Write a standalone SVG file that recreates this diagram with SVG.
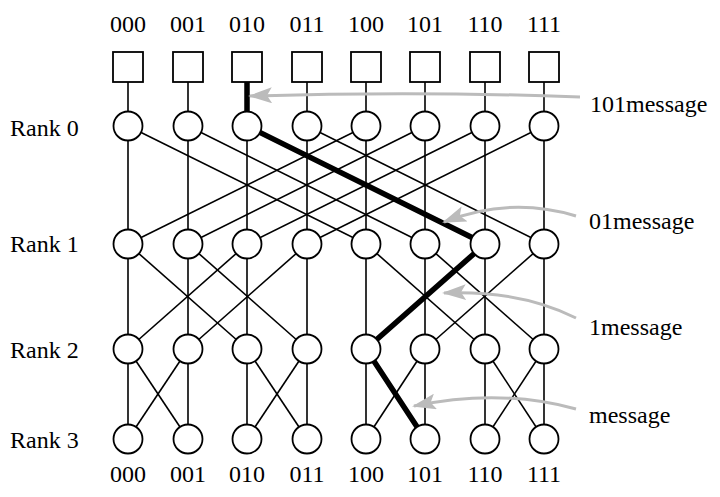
<svg xmlns="http://www.w3.org/2000/svg" width="720" height="497" viewBox="0 0 720 497">
<defs>
<style>
text{font-family:"Liberation Serif","Times New Roman",serif;font-size:24px;fill:#000}
.c text{text-anchor:middle}
.e line{stroke:#000;stroke-width:1.6}
.p{stroke:#000;stroke-width:5.5;fill:none}
.g path{stroke:#bbb;stroke-width:3;fill:none;marker-end:url(#ah)}
.n circle,.n rect{fill:#fff;stroke:#000;stroke-width:1.8}
</style>
<marker id="ah" viewBox="0 0 24 16" refX="22" refY="8" markerWidth="24" markerHeight="16" orient="auto" markerUnits="userSpaceOnUse"><path d="M24,8 L0,0 L5,8 L0,16 Z" fill="#bbb"/></marker>
</defs>
<rect width="720" height="497" fill="#fff"/>
<g id="connectors" class="e">
<line x1="128" y1="82" x2="128" y2="439"/><line x1="188" y1="82" x2="188" y2="439"/><line x1="247" y1="82" x2="247" y2="439"/><line x1="307" y1="82" x2="307" y2="439"/><line x1="366" y1="82" x2="366" y2="439"/><line x1="425" y1="82" x2="425" y2="439"/><line x1="485" y1="82" x2="485" y2="439"/><line x1="544" y1="82" x2="544" y2="439"/>
<line x1="128" y1="126" x2="366" y2="244"/><line x1="188" y1="126" x2="425" y2="244"/><line x1="247" y1="126" x2="485" y2="244"/><line x1="307" y1="126" x2="544" y2="244"/>
<line x1="366" y1="126" x2="128" y2="244"/><line x1="425" y1="126" x2="188" y2="244"/><line x1="485" y1="126" x2="247" y2="244"/><line x1="544" y1="126" x2="307" y2="244"/>
<line x1="128" y1="244" x2="247" y2="349"/><line x1="188" y1="244" x2="307" y2="349"/><line x1="247" y1="244" x2="128" y2="349"/><line x1="307" y1="244" x2="188" y2="349"/>
<line x1="366" y1="244" x2="485" y2="349"/><line x1="425" y1="244" x2="544" y2="349"/><line x1="485" y1="244" x2="366" y2="349"/><line x1="544" y1="244" x2="425" y2="349"/>
<line x1="128" y1="349" x2="188" y2="439"/><line x1="188" y1="349" x2="128" y2="439"/><line x1="247" y1="349" x2="307" y2="439"/><line x1="307" y1="349" x2="247" y2="439"/>
<line x1="366" y1="349" x2="425" y2="439"/><line x1="425" y1="349" x2="366" y2="439"/><line x1="485" y1="349" x2="544" y2="439"/><line x1="544" y1="349" x2="485" y2="439"/>
<polyline class="p" points="247,82 247,126 485,244 366,349 425,439"/>
</g>
<g id="nodes" class="n">
<g id="inputs"><rect x="113" y="52" width="30" height="30"/><rect x="173" y="52" width="30" height="30"/><rect x="232" y="52" width="30" height="30"/><rect x="292" y="52" width="30" height="30"/><rect x="351" y="52" width="30" height="30"/><rect x="410" y="52" width="30" height="30"/><rect x="470" y="52" width="30" height="30"/><rect x="529" y="52" width="30" height="30"/></g>
<g id="rank0"><circle cx="128" cy="126" r="14.5"/><circle cx="188" cy="126" r="14.5"/><circle cx="247" cy="126" r="14.5"/><circle cx="307" cy="126" r="14.5"/><circle cx="366" cy="126" r="14.5"/><circle cx="425" cy="126" r="14.5"/><circle cx="485" cy="126" r="14.5"/><circle cx="544" cy="126" r="14.5"/></g>
<g id="rank1"><circle cx="128" cy="244" r="14.5"/><circle cx="188" cy="244" r="14.5"/><circle cx="247" cy="244" r="14.5"/><circle cx="307" cy="244" r="14.5"/><circle cx="366" cy="244" r="14.5"/><circle cx="425" cy="244" r="14.5"/><circle cx="485" cy="244" r="14.5"/><circle cx="544" cy="244" r="14.5"/></g>
<g id="rank2"><circle cx="128" cy="349" r="14.5"/><circle cx="188" cy="349" r="14.5"/><circle cx="247" cy="349" r="14.5"/><circle cx="307" cy="349" r="14.5"/><circle cx="366" cy="349" r="14.5"/><circle cx="425" cy="349" r="14.5"/><circle cx="485" cy="349" r="14.5"/><circle cx="544" cy="349" r="14.5"/></g>
<g id="rank3"><circle cx="128" cy="439" r="14.5"/><circle cx="188" cy="439" r="14.5"/><circle cx="247" cy="439" r="14.5"/><circle cx="307" cy="439" r="14.5"/><circle cx="366" cy="439" r="14.5"/><circle cx="425" cy="439" r="14.5"/><circle cx="485" cy="439" r="14.5"/><circle cx="544" cy="439" r="14.5"/></g>
</g>
<g id="arrows" class="g">
<path d="M580,97 Q420,91 250,96"/>
<path d="M576,216 Q510,196 444,222"/>
<path d="M576,318 Q520,290 444,293"/>
<path d="M576,409 Q500,388 414,406"/>
</g>
<g id="labels">
<g class="c"><text x="128" y="32">000</text><text x="188" y="32">001</text><text x="247" y="32">010</text><text x="307" y="32">011</text><text x="366" y="32">100</text><text x="425" y="32">101</text><text x="485" y="32">110</text><text x="544" y="32">111</text>
<text x="128" y="482">000</text><text x="188" y="482">001</text><text x="247" y="482">010</text><text x="307" y="482">011</text><text x="366" y="482">100</text><text x="425" y="482">101</text><text x="485" y="482">110</text><text x="544" y="482">111</text></g>
<text x="10" y="136">Rank 0</text><text x="10" y="252">Rank 1</text><text x="10" y="358">Rank 2</text><text x="10" y="448">Rank 3</text>
<text x="590" y="112">101message</text><text x="589" y="229">01message</text><text x="589" y="335">1message</text><text x="589" y="423">message</text>
</g>
</svg>
